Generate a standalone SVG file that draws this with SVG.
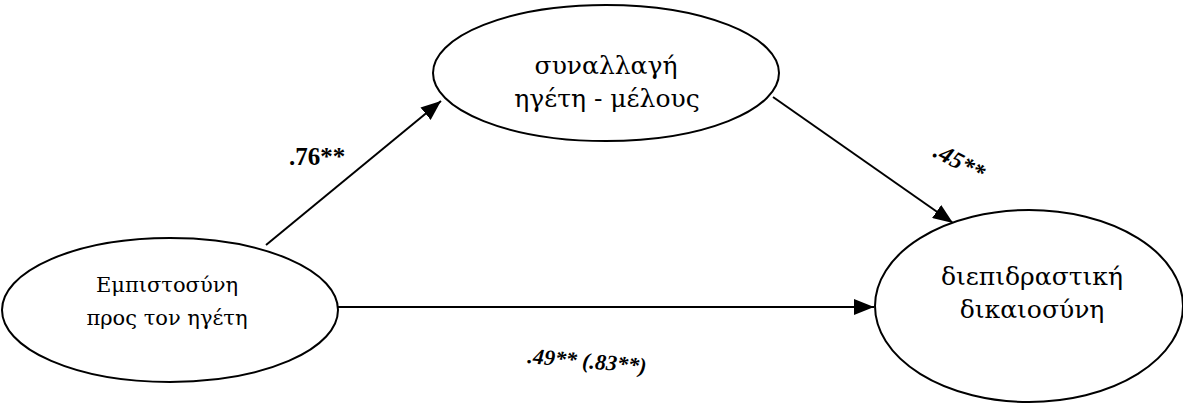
<svg xmlns="http://www.w3.org/2000/svg" width="1183" height="405" viewBox="0 0 1183 405">
<style>
.node{fill:#fff;stroke:#000;stroke-width:2}
.lbl{font-family:"DejaVu Serif","Liberation Serif",serif;fill:#000;text-anchor:middle}
.edge{stroke:#000;stroke-width:2;fill:none}
.coef{font-family:"Liberation Serif","DejaVu Serif",serif;font-weight:bold;fill:#000}
</style>
<defs>
<marker id="arrb" viewBox="0 0 20 16" refX="20" refY="8" markerWidth="20" markerHeight="16" orient="auto" markerUnits="userSpaceOnUse">
<path d="M0,0 L20,8 L0,16 z" fill="#000"/>
</marker>
</defs>
<g id="connectors">
<line class="edge" x1="266" y1="245" x2="441" y2="101" marker-end="url(#arrb)"/>
<line class="edge" x1="773" y1="97" x2="953" y2="223" marker-end="url(#arrb)"/>
<line class="edge" x1="337" y1="307" x2="874" y2="307" marker-end="url(#arrb)"/>
</g>
<g id="node-trust">
<ellipse class="node" cx="170" cy="310" rx="168" ry="72"/>
<text class="lbl" x="167" y="292" font-size="21">Εμπιστοσύνη</text>
<text class="lbl" x="167" y="325" font-size="21">προς τον ηγέτη</text>
</g>
<g id="node-lmx">
<ellipse class="node" cx="606" cy="73" rx="173" ry="68"/>
<text class="lbl" x="606" y="74" font-size="25">συναλλαγή</text>
<text class="lbl" x="607" y="107" font-size="25">ηγέτη - μέλους</text>
</g>
<g id="node-justice">
<ellipse class="node" cx="1029" cy="306" rx="154" ry="96"/>
<text class="lbl" x="1032" y="285" font-size="25">διεπιδραστική</text>
<text class="lbl" x="1032" y="318" font-size="25">δικαιοσύνη</text>
</g>
<g id="labels">
<text class="coef" x="289" y="165" font-size="25">.76**</text>
<text class="coef" font-style="italic" font-size="24" transform="translate(932,156) rotate(28)">.45**</text>
<text class="coef" font-style="italic" font-size="22" transform="translate(527,363) rotate(5)">.49** (.83**)</text>
</g>
</svg>
